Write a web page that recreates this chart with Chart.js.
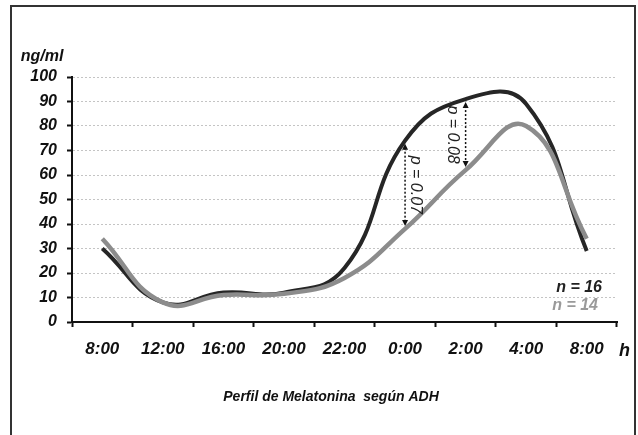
<!DOCTYPE html>
<html>
<head>
<meta charset="utf-8">
<script src="https://cdn.jsdelivr.net/npm/chart.js@4/dist/chart.umd.min.js"></script>
<style>
  html, body { margin: 0; padding: 0; background: #fff; }
  #wrap { position: relative; width: 638px; height: 435px; overflow: hidden; }
  #frame { position: absolute; left: 10px; top: 5px; width: 626px; height: 445px;
           border: 2px solid #333; box-sizing: border-box; pointer-events: none; }
  canvas { position: absolute; left: 0; top: 0; }
</style>
</head>
<body>
<div id="wrap">
  <canvas id="lineChart" width="638" height="435"></canvas>
  <div id="frame"></div>
</div>
<script>
'use strict';

// categories (time of day)
var hours = ['8:00', '12:00', '16:00', '20:00', '22:00', '0:00', '2:00', '4:00', '8:00'];

// melatonin, ng/ml
var groupN16 = [30, 8, 12, 12, 22, 74, 91, 89, 29];
var groupN14 = [34, 8, 11, 11.5, 18, 38, 62, 80, 34];

// y ticks
var yTicks = [0, 10, 20, 30, 40, 50, 60, 70, 80, 90, 100];

// p-value markers (category index, text)
var pIndex = [5, 6];
var pText = ['p = 0.07', 'p = 0.08'];

var darkLine = '#262626';
var greyLine = '#8c8c8c';
var FONT = '"Liberation Sans", Arial, sans-serif';

// ------------------------------------------------------- //
// extra texts + arrows
// ------------------------------------------------------ //
var extras = {
    id: 'extras',
    afterDatasetsDraw: function (chart) {
        var ctx = chart.ctx;
        var xs = chart.scales.x, ys = chart.scales.y;
        var area = chart.chartArea;

        // arrows between the two curves
        pIndex.forEach(function (idx, k) {
            var x = xs.getPixelForValue(idx);
            var yTop = ys.getPixelForValue(groupN16[idx]) + 3;
            var yBot = ys.getPixelForValue(groupN14[idx]) - 3;
            ctx.save();
            ctx.strokeStyle = '#111';
            ctx.lineWidth = 1.5;
            ctx.setLineDash([2, 2]);
            ctx.beginPath();
            ctx.moveTo(x, yTop + 4);
            ctx.lineTo(x, yBot - 4);
            ctx.stroke();
            ctx.setLineDash([]);
            ctx.fillStyle = '#111';
            ctx.beginPath();
            ctx.moveTo(x, yTop); ctx.lineTo(x - 3, yTop + 6); ctx.lineTo(x + 3, yTop + 6);
            ctx.closePath(); ctx.fill();
            ctx.beginPath();
            ctx.moveTo(x, yBot); ctx.lineTo(x - 3, yBot - 6); ctx.lineTo(x + 3, yBot - 6);
            ctx.closePath(); ctx.fill();

            // rotated label
            var tx = k === 0 ? x + 10 : x - 13;
            var ty = (yTop + yBot) / 2;
            ctx.translate(tx, ty);
            ctx.rotate(Math.PI / 2);
            ctx.font = 'italic 16px ' + FONT;
            ctx.textAlign = 'center';
            ctx.textBaseline = 'middle';
            ctx.fillStyle = '#222';
            ctx.fillText(pText[k], 0, 0);
            ctx.restore();
        });

        ctx.save();
        ctx.font = 'italic bold 16px ' + FONT;
        ctx.textAlign = 'right';
        ctx.textBaseline = 'middle';
        ctx.fillStyle = '#222';
        ctx.fillText('n = 16', area.right - 15, 288);
        ctx.fillStyle = '#9a9a9a';
        ctx.fillText('n = 14', area.right - 19, 306);

        // unit labels
        ctx.fillStyle = '#111';
        ctx.textAlign = 'center';
        ctx.fillText('ng/ml', 42, 57);
        ctx.font = 'italic bold 18px ' + FONT;
        ctx.textAlign = 'left';
        ctx.fillText('h', area.right + 2, 351);

        // caption
        ctx.font = 'italic bold 14px ' + FONT;
        ctx.textAlign = 'center';
        ctx.fillText('Perfil de Melatonina  según ADH', 331, 397);
        ctx.restore();
    }
};

var LINECHART = document.getElementById('lineChart');
var myLineChart = new Chart(LINECHART, {
    type: 'line',
    plugins: [extras],
    data: {
        labels: hours,
        datasets: [
            {
                label: 'n = 14',
                data: groupN14,
                borderColor: greyLine,
                borderWidth: 4.5,
                tension: 0.45,
                pointRadius: 0,
                fill: false
            },
            {
                label: 'n = 16',
                data: groupN16,
                borderColor: darkLine,
                borderWidth: 4,
                tension: 0.45,
                pointRadius: 0,
                fill: false
            }
        ]
    },
    options: {
        responsive: false,
        animation: false,
        layout: {
            padding: { left: 0, top: 77, right: 21, bottom: 68 }
        },
        plugins: {
            legend: { display: false },
            tooltip: { enabled: false }
        },
        scales: {
            x: {
                type: 'category',
                offset: true,
                afterFit: function (s) { s.height = 45; },
                grid: {
                    offset: true,
                    drawOnChartArea: false,
                    drawTicks: true,
                    tickLength: 5,
                    tickColor: '#111',
                    tickWidth: 2
                },
                border: { color: '#111', width: 2 },
                ticks: {
                    color: '#111',
                    padding: 12,
                    maxRotation: 0,
                    autoSkip: false,
                    font: { family: FONT, size: 17, style: 'italic', weight: 'bold' }
                }
            },
            y: {
                min: 0,
                max: 100,
                afterFit: function (s) { s.width = 72; },
                afterBuildTicks: function (s) {
                    s.ticks = yTicks.map(function (v) { return { value: v }; });
                },
                grid: {
                    color: '#c4c4c4',
                    lineWidth: 1,
                    tickLength: 5,
                    tickColor: '#111',
                    tickWidth: 2,
                    tickBorderDash: []
                },
                border: { color: '#111', width: 2, dash: [2, 2] },
                ticks: {
                    color: '#111',
                    padding: 10,
                    font: { family: FONT, size: 16, style: 'italic', weight: 'bold' }
                }
            }
        }
    }
});
</script>
</body>
</html>
